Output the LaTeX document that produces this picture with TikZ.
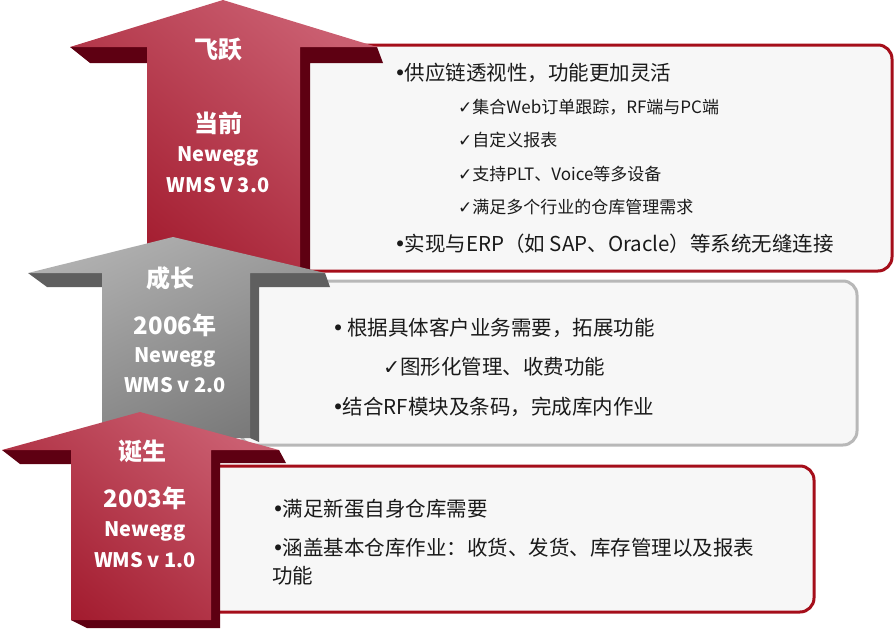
\documentclass[tikz,border=0pt]{standalone}
\usepackage{fontspec}
\setmainfont{Noto Sans CJK SC}
\newfontfamily\symfont{DejaVu Sans}
\usetikzlibrary{positioning}

\definecolor{wmsred}{HTML}{A31C2F}
\definecolor{wmsredlight}{HTML}{CA5E70}
\definecolor{wmsreddark}{HTML}{5E0012}
\definecolor{wmsgrey}{HTML}{7A7A7A}
\definecolor{wmsgreylight}{HTML}{B0B0B0}
\definecolor{wmsgreydark}{HTML}{5F5F5F}
\definecolor{boxred}{HTML}{A50E1A}
\definecolor{boxgrey}{HTML}{B8B8B8}
\definecolor{boxfill}{HTML}{F7F7F7}
\definecolor{itemtext}{HTML}{1A1A1A}

\newcommand\chkmark{{\symfont ✓}}
\newcommand\bul{{\symfont •}\hspace{-1.5pt}}

\tikzset{
  redface/.style={top color=wmsredlight, bottom color=wmsred, shading angle=-40},
  greyface/.style={top color=wmsgreylight, bottom color=wmsgrey, shading angle=25},
  redside/.style={fill=wmsreddark},
  greyside/.style={fill=wmsgreydark},
  redbox/.style={draw=boxred, line width=3pt, fill=boxfill, rounded corners=14pt},
  greybox/.style={draw=boxgrey, line width=3pt, fill=boxfill, rounded corners=14pt},
  arrowtitle/.style={text=white, font=\bfseries\fontsize{24}{26}\selectfont, inner sep=0pt},
  arrowname/.style={text=white, font=\bfseries\fontsize{20}{22}\selectfont, inner sep=0pt},
  item/.style={text=itemtext, font=\fontsize{20.5}{23}\selectfont, anchor=west, inner sep=0pt},
  subitem/.style={text=itemtext, font=\fontsize{17}{20}\selectfont, anchor=west, inner sep=0pt}
}

\begin{document}
\begin{tikzpicture}[x=1pt, y=-1pt]
  \useasboundingbox (0,0) rectangle (895,629);

  \draw[redbox] (290,45) rectangle (892,271);
  \fill[redside] (70,47) -- (90,63) -- (147,63) -- (147,47) -- cycle;
  \fill[redside] (300,47) -- (377,47) -- (383,63) -- (310,63) -- (310,272) -- (300,268) -- cycle;
  \shade[redface] (223,0) -- (377,47) -- (300,47) -- (300,268) -- (147,268) -- (147,47) -- (70,47) -- cycle;
  \node[arrowtitle] (leap) at (218,50) {飞跃};
  \node[arrowtitle] (now) at (218,123) {当前};
  \node[arrowname] (name3) at (218,156) {Newegg};
  \node[arrowname] (ver3) at (218,185) {WMS V 3.0};
  \node[item] (v3a) at (394,73) {\bul 供应链透视性，功能更加灵活};
  \node[subitem] (v3b) at (458,107) {\chkmark 集合Web订单跟踪，RF端与PC端};
  \node[subitem] (v3c) at (458,140) {\chkmark 自定义报表};
  \node[subitem] (v3d) at (458,174) {\chkmark 支持PLT、Voice等多设备};
  \node[subitem] (v3e) at (458,207) {\chkmark 满足多个行业的仓库管理需求};
  \node[item] (v3f) at (394,244) {\bul 实现与ERP（如 SAP、Oracle）等系统无缝连接};

  \draw[greybox] (240,281) rectangle (857,445);
  \fill[greyside] (28,273) -- (47,287) -- (102,287) -- (102,273) -- cycle;
  \fill[greyside] (250,273) -- (325,273) -- (330,287) -- (259,287) -- (259,442) -- (250,438) -- cycle;
  \shade[greyface] (173,237) -- (325,273) -- (250,273) -- (250,438) -- (102,438) -- (102,273) -- (28,273) -- cycle;
  \node[arrowtitle] (grow) at (170,278) {成长};
  \node[arrowtitle] (year2) at (175,325) {2006年};
  \node[arrowname] (name2) at (175,357) {Newegg};
  \node[arrowname] (ver2) at (175,385) {WMS v 2.0};
  \node[item] (v2a) at (332,328) {\bul\ 根据具体客户业务需要，拓展功能};
  \node[item] (v2b) at (383,367) {\chkmark 图形化管理、收费功能};
  \node[item] (v2c) at (332,407) {\bul 结合RF模块及条码，完成库内作业};

  \draw[redbox] (200,466) rectangle (814,612);
  \fill[redside] (2,450) -- (20,464) -- (71,464) -- (71,450) -- cycle;
  \fill[redside] (211,450) -- (279,450) -- (286,463) -- (220,463) -- (220,628) -- (87,628) -- (71,620) -- (211,620) -- cycle;
  \shade[redface] (140,412) -- (279,450) -- (211,450) -- (211,620) -- (71,620) -- (71,450) -- (2,450) -- cycle;
  \node[arrowtitle] (birth) at (142,451) {诞生};
  \node[arrowtitle] (year1) at (145,498) {2003年};
  \node[arrowname] (name1) at (145,531) {Newegg};
  \node[arrowname] (ver1) at (145,560) {WMS v 1.0};
  \node[item] (v1a) at (272,509) {\bul 满足新蛋自身仓库需要};
  \node[item] (v1b) at (272,548) {\bul 涵盖基本仓库作业：收货、发货、库存管理以及报表};
  \node[item] (v1c) at (272,576) {功能};
\end{tikzpicture}
\end{document}
